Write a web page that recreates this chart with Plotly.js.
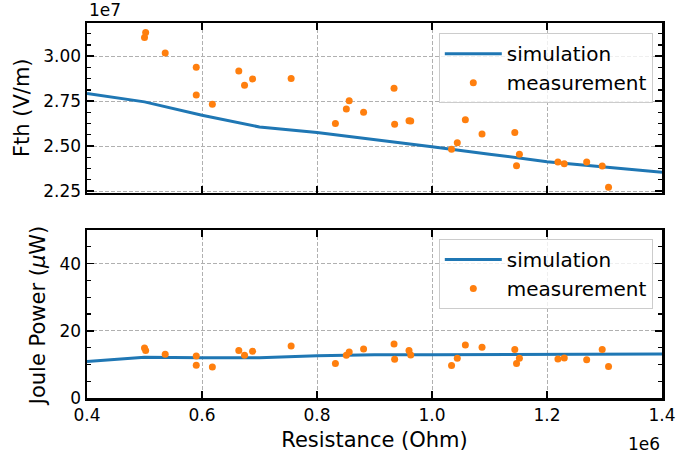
<!DOCTYPE html>
<html>
<head>
<meta charset="utf-8">
<script src="https://cdn.plot.ly/plotly-3.0.1.min.js"></script>
<style>html,body{margin:0;padding:0;background:#fff;}#chart{width:676px;height:453px;}</style>
</head>
<body>
<div id="chart"></div>
<script>
// Simulation (resistance in units of 1e6 Ohm)
const simResistance = [0.4, 0.5, 0.6, 0.7, 0.8, 0.9, 1.0, 1.1, 1.2, 1.3, 1.4];
const simFth = [2.793, 2.746, 2.672, 2.606, 2.576, 2.538, 2.496, 2.455, 2.413, 2.383, 2.354]; // 1e7 V/m
const simPower = [10.9, 12.1, 12.0, 12.0, 12.6, 12.9, 12.9, 12.9, 12.9, 13.0, 13.1]; // uW

// Measurements
const measResistance = [0.500, 0.502, 0.536, 0.590, 0.590, 0.618, 0.664, 0.674, 0.688, 0.755,
  0.832, 0.851, 0.856, 0.881, 0.934, 0.935, 0.960, 0.963, 1.034, 1.044,
  1.058, 1.087, 1.144, 1.147, 1.152, 1.219, 1.230, 1.269, 1.296, 1.307];
const measFth = [3.104, 3.132, 3.018, 2.939, 2.785, 2.733, 2.918, 2.839, 2.874, 2.876,
  2.626, 2.706, 2.752, 2.689, 2.822, 2.622, 2.641, 2.639, 2.483, 2.518,
  2.646, 2.567, 2.576, 2.391, 2.454, 2.411, 2.402, 2.411, 2.389, 2.271];
const measPower = [14.9, 14.1, 13.0, 12.5, 9.75, 9.2, 14.1, 12.7, 13.9, 15.5,
  10.3, 12.7, 13.7, 14.6, 16.1, 11.5, 14.1, 12.8, 9.7, 11.8,
  15.8, 15.1, 14.4, 10.3, 11.8, 11.6, 11.9, 11.4, 14.4, 9.4];

const xTicks = [0.4, 0.6, 0.8, 1.0, 1.2, 1.4];
const fthTicks = [2.25, 2.50, 2.75, 3.00];
const powerTicks = [0, 20, 40];

const FONT = 'DejaVu Sans, sans-serif';
const BLUE = '#1f77b4', ORANGE = '#ff7f0e';

const traces = [
  {x: simResistance, y: simFth, type: 'scatter', mode: 'lines', name: 'simulation',
   line: {color: BLUE, width: 3}, xaxis: 'x', yaxis: 'y', legend: 'legend'},
  {x: measResistance, y: measFth, type: 'scatter', mode: 'markers', name: 'measurement',
   marker: {color: ORANGE, size: 7}, xaxis: 'x', yaxis: 'y', legend: 'legend'},
  {x: simResistance, y: simPower, type: 'scatter', mode: 'lines', name: 'simulation',
   line: {color: BLUE, width: 3}, xaxis: 'x2', yaxis: 'y2', legend: 'legend2'},
  {x: measResistance, y: measPower, type: 'scatter', mode: 'markers', name: 'measurement',
   marker: {color: ORANGE, size: 7}, xaxis: 'x2', yaxis: 'y2', legend: 'legend2'}
];

const common = {
  showline: true, linewidth: 2.5, linecolor: '#000', mirror: 'allticks',
  ticks: 'inside', ticklen: 7, tickwidth: 1.5, tickcolor: '#000',
  showgrid: true, gridcolor: '#b0b0b0', gridwidth: 1, griddash: '4px,2px',
  zeroline: false, tickfont: {family: FONT, size: 17, color: '#000'}
};
const minorFth = {ticks: 'inside', ticklen: 4, tickwidth: 1.2, tickcolor: '#000', dtick: 0.0625, tick0: 2.25, showgrid: false};
const minorPow = {ticks: 'inside', ticklen: 4, tickwidth: 1.2, tickcolor: '#000', dtick: 5, tick0: 0, showgrid: false};
const rightAxis = {
  side: 'right', showline: false, showgrid: false, zeroline: false, showticklabels: false,
  ticks: 'inside', ticklen: 7, tickwidth: 1.5, tickcolor: '#000'
};

const legendStyle = {
  bgcolor: 'rgba(255,255,255,0.8)', bordercolor: '#cccccc', borderwidth: 1,
  font: {family: FONT, size: 20, color: '#000'}, xanchor: 'right', yanchor: 'top', x: 0.984,
  itemwidth: 57
};
const titleFont = {family: FONT, size: 21, color: '#000'};

const layout = {
  width: 676, height: 453,
  margin: {l: 87, r: 14, t: 23, b: 55, pad: 0},
  paper_bgcolor: '#fff', plot_bgcolor: '#fff',
  font: {family: FONT, color: '#000'},
  showlegend: true,
  xaxis: Object.assign({}, common, {domain: [0, 1], anchor: 'y', range: [0.4, 1.4],
    tickvals: xTicks, showticklabels: false}),
  yaxis: Object.assign({}, common, {domain: [0.5467, 1], anchor: 'x', range: [2.239, 3.185],
    tickvals: fthTicks, tickformat: '.2f', minor: minorFth}),
  yaxis3: Object.assign({}, rightAxis, {overlaying: 'y', anchor: 'x', range: [2.239, 3.185],
    tickvals: fthTicks, minor: minorFth}),
  xaxis2: Object.assign({}, common, {domain: [0, 1], anchor: 'y2', range: [0.4, 1.4],
    tickvals: xTicks, tickformat: '.1f',
    title: {text: 'Resistance (Ohm)', font: titleFont, standoff: 9}}),
  yaxis2: Object.assign({}, common, {domain: [0, 0.448], anchor: 'x2', range: [0, 50],
    tickvals: powerTicks, minor: minorPow}),
  yaxis4: Object.assign({}, rightAxis, {overlaying: 'y2', anchor: 'x2', range: [0, 50],
    tickvals: powerTicks, minor: minorPow}),
  legend: Object.assign({}, legendStyle, {y: 0.973}),
  legend2: Object.assign({}, legendStyle, {y: 0.424}),
  annotations: [
    {text: 'Fth (V/m)', xref: 'paper', yref: 'paper', x: -0.113, y: 0.7733,
     xanchor: 'center', yanchor: 'middle', textangle: -90, showarrow: false, font: titleFont},
    {text: 'Joule Power (<i>μ</i>W)', xref: 'paper', yref: 'paper', x: -0.0852, y: 0.218,
     xanchor: 'center', yanchor: 'middle', textangle: -90, showarrow: false, font: titleFont},
    {text: '1e7', xref: 'paper', yref: 'paper', x: 0, y: 1, xanchor: 'left', yanchor: 'bottom',
     yshift: 1, showarrow: false, font: {family: FONT, size: 17, color: '#000'}},
    {text: '1e6', xref: 'paper', yref: 'paper', x: 1, y: 0, xanchor: 'right', yanchor: 'top',
     yshift: -34, showarrow: false, font: {family: FONT, size: 17, color: '#000'}}
  ]
};

Plotly.newPlot('chart', traces, layout, {staticPlot: true, displayModeBar: false});
</script>
</body>
</html>
